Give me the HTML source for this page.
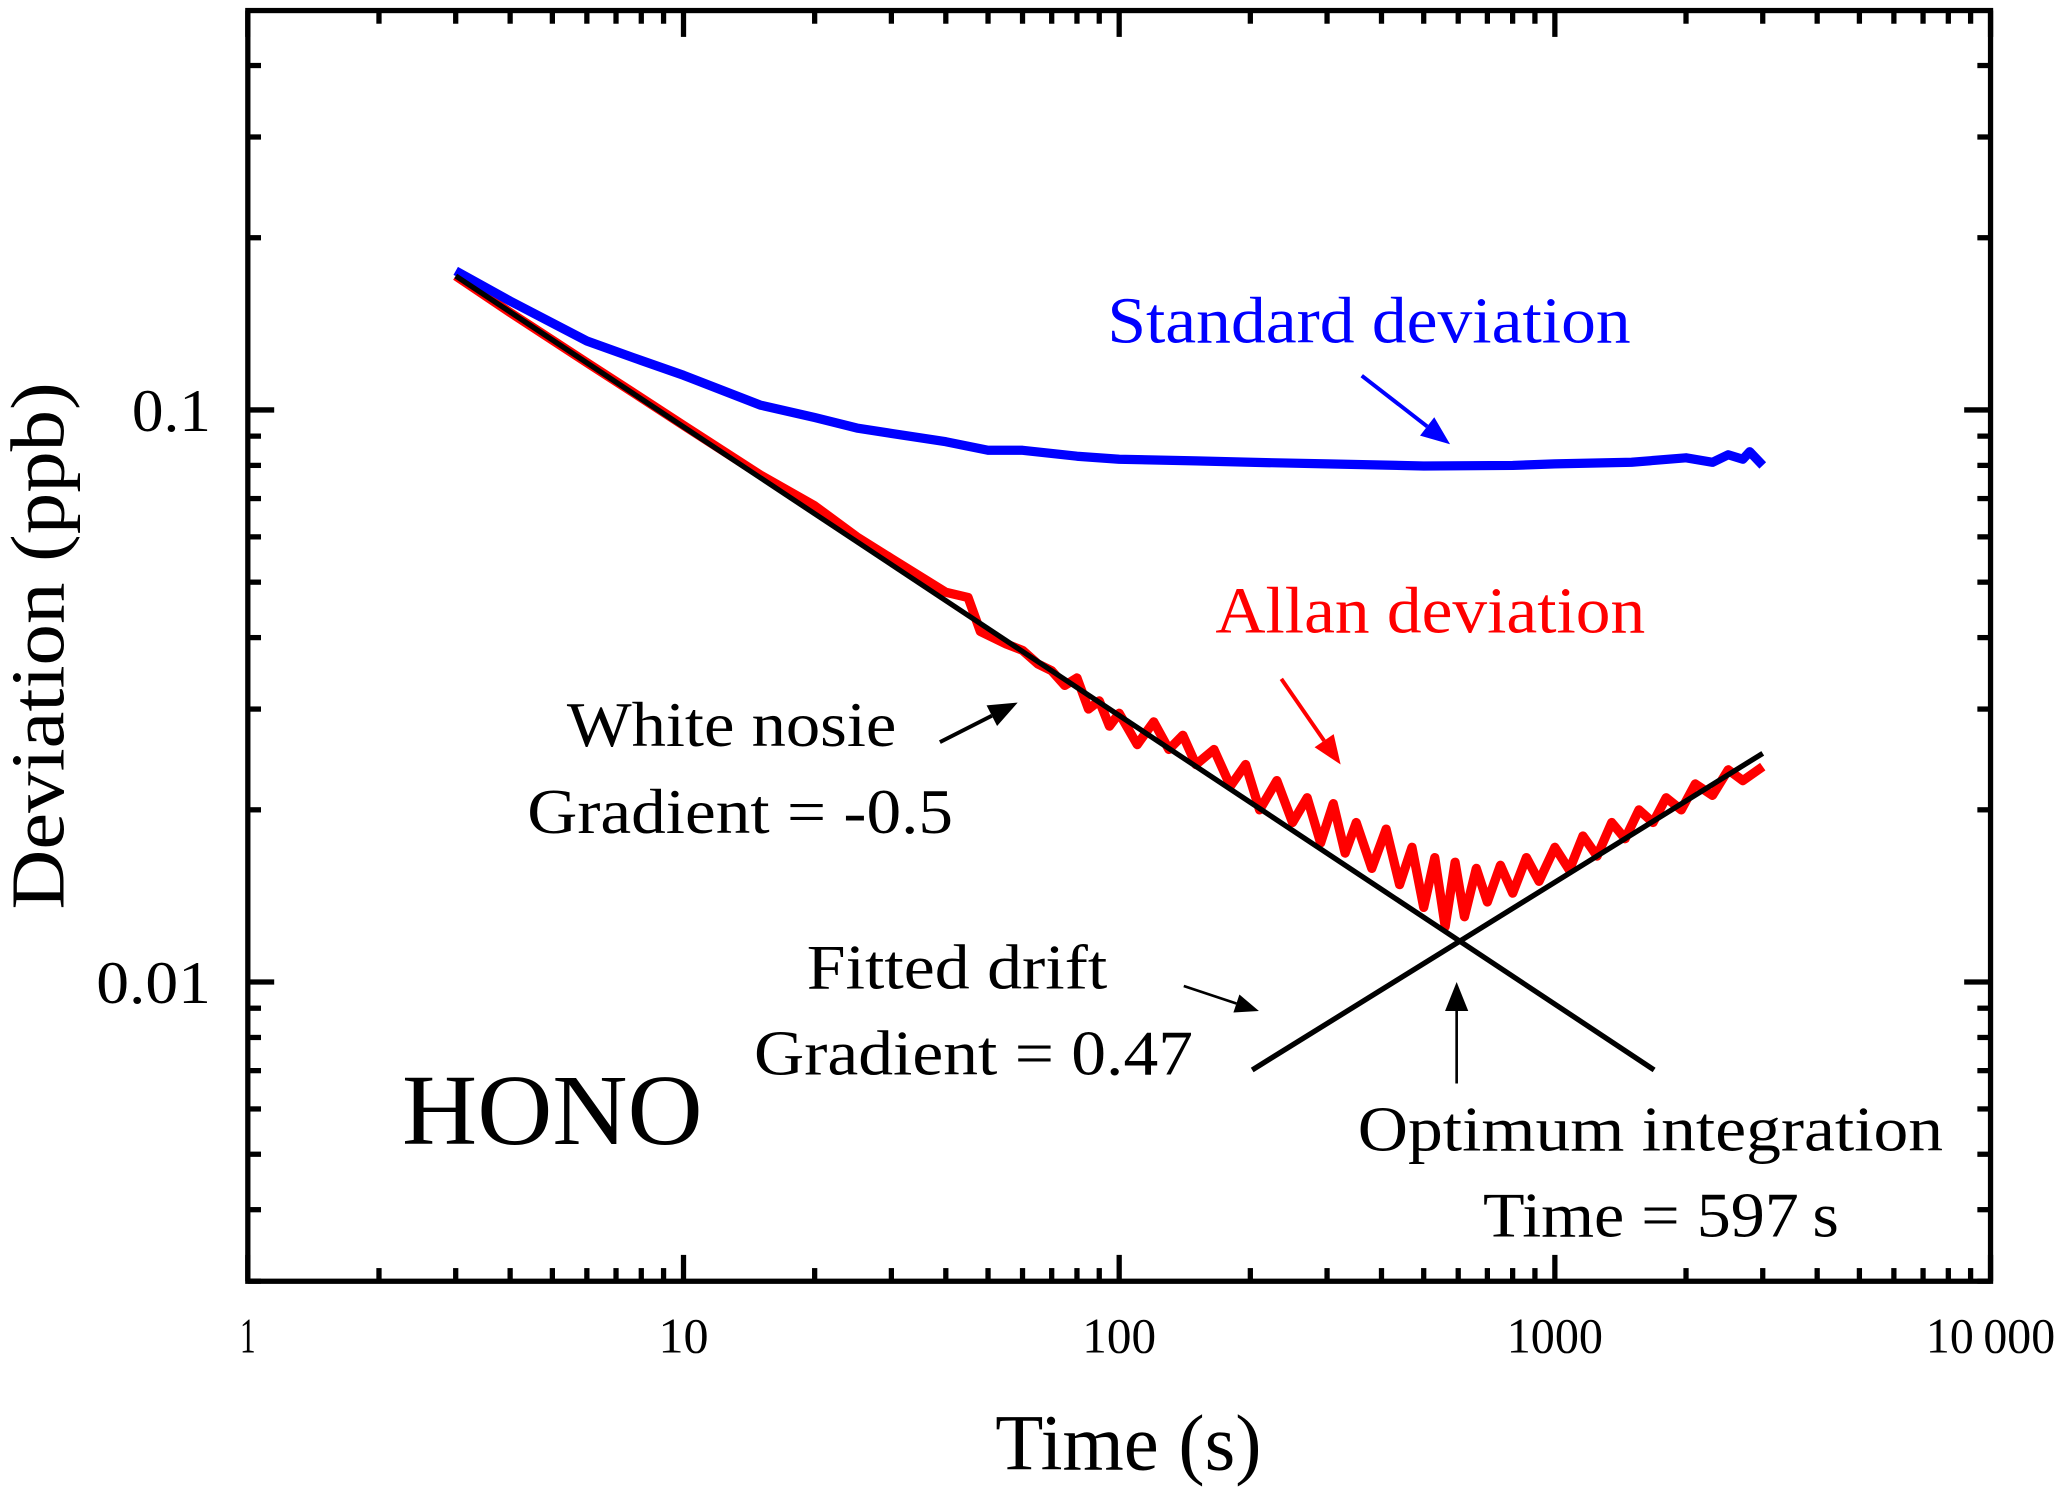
<!DOCTYPE html>
<html><head><meta charset="utf-8"><style>
html,body{margin:0;padding:0;background:#fff;}
svg{display:block;font-family:"Liberation Serif",serif;}
</style></head><body>
<svg id="chart" width="2067" height="1494" viewBox="0 0 1568 1133.4" preserveAspectRatio="none" xmlns="http://www.w3.org/2000/svg">
<g id="plot"></g>
</svg>
<script>
const xTicks=[1,10,100,1000,10000];
const xTickLabels=["1","10","100","1000","10\u2009000"];
const yTicks=[0.01,0.1];
const yTickLabels=["0.01","0.1"];
const stdT=[3,4,6,8,10,15,20,25,30,40,50,60,80,100,150,200,300,500,800,1000,1500,2000,2300,2500,2700,2800,3000];
const stdV=[0.175,0.155,0.132,0.122,0.115,0.102,0.097,0.093,0.091,0.088,0.085,0.085,0.083,0.082,0.0815,0.081,0.0805,0.0798,0.080,0.0805,0.081,0.0825,0.081,0.0835,0.082,0.0845,0.080];
const allanT=[3,4,6,8,10,15,20,25,30,40,45,48,55,60,65,70,75,80,85,90,95,100,110,120,130,140,150,165,180,195,210,230,250,270,290,310,330,350,380,410,440,470,500,530,560,590,620,660,700,750,800,860,920,1000,1080,1160,1250,1350,1450,1560,1680,1800,1950,2100,2300,2500,2700,3000];
const allanV=[0.1715,0.148,0.121,0.105,0.094,0.077,0.068,0.060,0.055,0.048,0.047,0.041,0.039,0.038,0.036,0.035,0.033,0.034,0.030,0.031,0.028,0.0295,0.026,0.0285,0.0255,0.027,0.024,0.0255,0.022,0.024,0.020,0.0225,0.019,0.021,0.0175,0.0205,0.0168,0.019,0.0158,0.0185,0.0148,0.0172,0.0135,0.0165,0.0125,0.0162,0.0130,0.0158,0.0138,0.0160,0.0143,0.0165,0.0150,0.0172,0.0157,0.0180,0.0166,0.0190,0.0178,0.0200,0.0190,0.0210,0.0200,0.0222,0.0212,0.0235,0.0225,0.0238];
const whiteT=[3,1690];
const whiteV=[0.1715,0.00702];
const driftT=[202,3000];
const driftV=[0.00702,0.0251];

const L=188,R=1510,T=8,B=972;
function X(t){return L+Math.log10(t)*330.5;}
function Y(v){return 311-(Math.log10(v)+1)*434;}
const NS="http://www.w3.org/2000/svg";
const g=document.getElementById('plot');
function mk(tag,attrs,parent){const e=document.createElementNS(NS,tag);for(const k in attrs)e.setAttribute(k,attrs[k]);(parent||g).appendChild(e);return e;}
function pts(ts,vs){return ts.map((t,i)=>X(t).toFixed(1)+","+Y(vs[i]).toFixed(1)).join(" ");}

let s=mk('polyline',{points:pts(allanT,allanV),fill:'none',stroke:'#ff0000','stroke-width':7,'stroke-linejoin':'round'});


s=mk('polyline',{points:pts(stdT,stdV),fill:'none',stroke:'#0000ff','stroke-width':7,'stroke-linejoin':'round'});


s=mk('polyline',{points:pts(whiteT,whiteV),fill:'none',stroke:'#000','stroke-width':4});


s=mk('polyline',{points:pts(driftT,driftV),fill:'none',stroke:'#000','stroke-width':4});



let f=mk('rect',{x:L,y:T,width:R-L,height:B-T,fill:'none',stroke:'#000','stroke-width':4});



for(let d=0;d<=4;d++){
  for(let m=1;m<=9;m++){
    if(d==4&&m>1)break;
    const t=m*Math.pow(10,d);const x=X(t);const len=m==1?20:10;
    let a=mk('line',{x1:x,y1:B,x2:x,y2:B-len,stroke:'#000','stroke-width':4});
    
    
    let b=mk('line',{x1:x,y1:T,x2:x,y2:T+len,stroke:'#000','stroke-width':4});
    
    
  }
}
const xLabLen=[12,38,56,73,98];
xTicks.forEach((t,i)=>{
  let e=mk('text',{x:X(t),y:1026,'text-anchor':'middle','font-size':38,textLength:xLabLen[i],lengthAdjust:'spacingAndGlyphs'});
  e.textContent=xTickLabels[i];
  
  
});
const yMin=Math.pow(10,-1-(B-311)/434),yMax=Math.pow(10,-1+(311-T)/434);
for(let d=-3;d<=0;d++){
  for(let m=1;m<=9;m++){
    const v=m*Math.pow(10,d);if(v<yMin||v>yMax)continue;
    const y=Y(v);const len=m==1?20:10;
    let a=mk('line',{x1:L,y1:y,x2:L+len,y2:y,stroke:'#000','stroke-width':4});
    
    
    let b=mk('line',{x1:R,y1:y,x2:R-len,y2:y,stroke:'#000','stroke-width':4});
    
    
  }
}
const yLabLen=[87,60];
yTicks.forEach((v,i)=>{
  let e=mk('text',{x:160-yLabLen[i],y:Y(v)+16,'font-size':46,textLength:yLabLen[i],lengthAdjust:'spacingAndGlyphs'});
  e.textContent=yTickLabels[i];
  
  
});
</script>
<script>
(function(){
const NS="http://www.w3.org/2000/svg";
const g=document.getElementById('plot');
function txt(x,y,size,color,str,name,len,rot){
  const e=document.createElementNS(NS,'text');
  e.setAttribute('x',x);e.setAttribute('y',y);e.setAttribute('font-size',size);e.setAttribute('fill',color);
  if(len){e.setAttribute('textLength',len);e.setAttribute('lengthAdjust','spacingAndGlyphs');}
  if(rot)e.setAttribute('transform',rot);
  e.textContent=str;
  
  
  g.appendChild(e);
}
function arrow(x1,y1,x2,y2,color,w,name,hl){
  const a=Math.atan2(y2-y1,x2-x1);hl=hl||22;const hw=hl*0.4;
  const bx=x2-hl*Math.cos(a),by=y2-hl*Math.sin(a);
  const l=document.createElementNS(NS,'line');
  l.setAttribute('x1',x1);l.setAttribute('y1',y1);l.setAttribute('x2',bx);l.setAttribute('y2',by);
  l.setAttribute('stroke',color);l.setAttribute('stroke-width',w);
  
  
  g.appendChild(l);
  const p=document.createElementNS(NS,'polygon');
  p.setAttribute('points',x2+","+y2+" "+(bx+hw*Math.sin(a))+","+(by-hw*Math.cos(a))+" "+(bx-hw*Math.sin(a))+","+(by+hw*Math.cos(a)));
  p.setAttribute('fill',color);
  
  
  g.appendChild(p);
}
txt(755,1115,60,'#000','Time (s)','x-axis-title',202);
txt(48,690,58,'#000','Deviation (ppb)','y-axis-title',400,'rotate(-90 48 690)');
txt(840,260,50,'#0000ff','Standard deviation','standard-deviation-label',397);
arrow(1033,285,1100,337,'#0000ff',3,'standard-deviation-arrow');
txt(922,480,50,'#ff0000','Allan deviation','allan-deviation-label',326);
arrow(972,515,1017,580,'#ff0000',3,'allan-deviation-arrow');
txt(430,566,48,'#000','White nosie','white-noise-label',250);
txt(400,632,48,'#000','Gradient = -0.5','white-noise-gradient-label',323);
arrow(713,563,772,533,'#000',3,'white-noise-arrow');
txt(612,750,48,'#000','Fitted drift','fitted-drift-label',228);
txt(572,815,48,'#000','Gradient = 0.47','fitted-drift-gradient-label',333);
arrow(898,748,955,767,'#000',2,'fitted-drift-arrow',18);
txt(305,868,76,'#000','HONO','species-label',228);
arrow(1105,822,1105,745,'#000',2,'optimum-arrow',22);
txt(1030,873,48,'#000','Optimum integration','optimum-integration-label',444);
txt(1125,938,48,'#000','Time = 597\u2009s','optimum-time-label',270);
})();
</script>
</body></html>
